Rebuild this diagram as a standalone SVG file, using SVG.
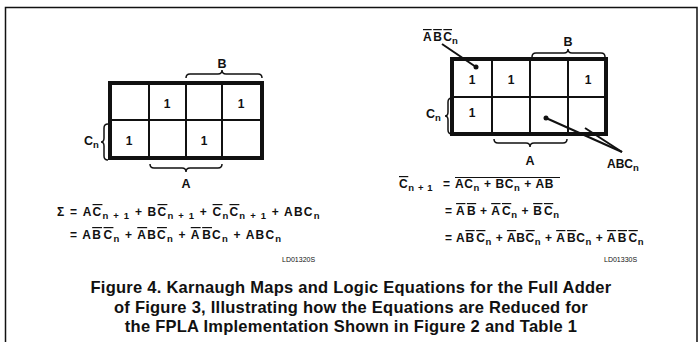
<svg xmlns="http://www.w3.org/2000/svg" width="699" height="342" viewBox="0 0 699 342">
<style>
text{font-family:"Liberation Sans",Arial,sans-serif;font-weight:bold;fill:#111}
.eq{font-size:12px}
.el{letter-spacing:1.2px}
.er{letter-spacing:0.6px}
.s{font-size:9.5px}
.ov{text-decoration:overline}
.one{font-size:12px;text-anchor:middle}
.lbl{font-size:12.5px}
.id{font-size:7px;font-weight:normal}
.cap{font-size:16.5px;text-anchor:middle;letter-spacing:0.25px}
.outer{fill:#fff;stroke:#111;stroke-width:4}
.inner{stroke:#111;stroke-width:2;fill:none}
.brace{fill:none;stroke:#111;stroke-width:1.5}
.lead{stroke:#111;stroke-width:2;fill:none}
</style>
<path d="M5.5,342 V7.5 H697 V342" fill="none" stroke="#111" stroke-width="1.5"/>

<g id="map-sum">
<rect class="outer" x="110" y="83" width="152" height="75"/>
<path class="inner" d="M149,83V158M186,83V158M222,83V158M110,120H262"/>
<text class="one" x="167" y="108">1</text>
<text class="one" x="241" y="108">1</text>
<text class="one" x="129" y="145">1</text>
<text class="one" x="204" y="145">1</text>
<path class="brace" d="M186,78 Q186,74 190,74 L218,74 Q222,74 222,70 Q222,74 226,74 L258,74 Q262,74 262,78"/>
<text class="lbl" x="222" y="68" text-anchor="middle">B</text>
<path class="brace" d="M150,164 Q150,168 154,168 L182,168 Q186,168 186,172 Q186,168 190,168 L218,168 Q222,168 222,164"/>
<text class="lbl" x="186" y="188" text-anchor="middle">A</text>
<path class="brace" d="M108,124 Q104,124 104,128 L104,138 Q104,142 101,142 Q104,142 104,146 L104,156 Q104,160 108,160"/>
<text class="lbl" x="84" y="145">C<tspan class="s" dy="3">n</tspan></text>
</g>

<g id="map-carry">
<rect class="outer" x="452" y="59" width="154" height="75"/>
<path class="inner" d="M492,59V134M530,59V134M568,59V134M452,97H606"/>
<text class="one" x="472" y="84">1</text>
<text class="one" x="511" y="84">1</text>
<text class="one" x="588" y="84">1</text>
<text class="one" x="472" y="117">1</text>
<path class="brace" d="M532,57 Q532,53 536,53 L564,53 Q568,53 568,49 Q568,53 572,53 L601,53 Q605,53 605,57"/>
<text class="lbl" x="568" y="46" text-anchor="middle">B</text>
<path class="brace" d="M494,139 Q494,143 498,143 L526,143 Q530,143 530,147 Q530,143 534,143 L563,143 Q567,143 567,139"/>
<text class="lbl" x="530" y="165" text-anchor="middle">A</text>
<path class="brace" d="M452,98 Q448,98 448,102 L448,112 Q448,116 445,116 Q448,116 448,120 L448,130 Q448,134 452,134"/>
<text class="lbl" x="426" y="118">C<tspan class="s" dy="3">n</tspan></text>
<text class="eq" x="423" y="41"><tspan class="ov">A</tspan><tspan dx="1.5" class="ov">B</tspan><tspan dx="1.5" class="ov">C</tspan><tspan class="s" dy="3">n</tspan></text>
<text class="eq" x="607" y="168">ABC<tspan class="s" dy="3">n</tspan></text>
</g>

<g id="connectors">
<path class="lead" d="M442,44 L476,67"/>
<circle cx="476" cy="67" r="2.5" fill="#111"/>
<path class="lead" d="M546,118 L622,152"/>
<path class="lead" d="M585,128 L622,152" stroke-width="1.5"/>
<circle cx="546" cy="118" r="2.5" fill="#111"/>
</g>

<g id="eq-sum">
<text class="eq el" x="57" y="216">Σ = A<tspan class="ov">C</tspan><tspan class="s" dy="3">n + 1</tspan><tspan dy="-3"> + B</tspan><tspan class="ov">C</tspan><tspan class="s" dy="3">n + 1</tspan><tspan dy="-3"> + </tspan><tspan class="ov">C</tspan><tspan class="s" dy="3">n</tspan><tspan class="ov" dy="-3">C</tspan><tspan class="s" dy="3">n + 1</tspan><tspan dy="-3"> + ABC</tspan><tspan class="s" dy="3">n</tspan></text>
<text class="eq el" x="70" y="239">= A<tspan class="ov">B</tspan><tspan class="ov" dx="1.5">C</tspan><tspan class="s" dy="3">n</tspan><tspan dy="-3"> + </tspan><tspan class="ov">A</tspan><tspan>B</tspan><tspan class="ov">C</tspan><tspan class="s" dy="3">n</tspan><tspan dy="-3"> + </tspan><tspan class="ov">A</tspan><tspan class="ov" dx="1.5">B</tspan><tspan>C</tspan><tspan class="s" dy="3">n</tspan><tspan dy="-3"> + ABC</tspan><tspan class="s" dy="3">n</tspan></text>
<text class="id" x="282" y="262">LD01320S</text>
</g>

<g id="eq-carry">
<text class="eq er" x="399" y="188"><tspan class="ov">C</tspan><tspan class="s" dy="3">n + 1</tspan><tspan x="443" dy="-3">=</tspan><tspan x="455">AC</tspan><tspan class="s" dy="3">n</tspan><tspan dy="-3"> + BC</tspan><tspan class="s" dy="3">n</tspan><tspan dy="-3"> + AB</tspan></text>
<path d="M455,177.5 H560" stroke="#111" stroke-width="1"/>
<text class="eq er" x="445" y="215">= <tspan class="ov">A</tspan><tspan class="ov" dx="1.5">B</tspan><tspan> + </tspan><tspan class="ov">A</tspan><tspan class="ov" dx="1.5">C</tspan><tspan class="s" dy="3">n</tspan><tspan dy="-3"> + </tspan><tspan class="ov">B</tspan><tspan class="ov" dx="1.5">C</tspan><tspan class="s" dy="3">n</tspan></text>
<text class="eq er" x="445" y="242">= A<tspan class="ov">B</tspan><tspan class="ov" dx="1.5">C</tspan><tspan class="s" dy="3">n</tspan><tspan dy="-3"> + </tspan><tspan class="ov">A</tspan><tspan>B</tspan><tspan class="ov">C</tspan><tspan class="s" dy="3">n</tspan><tspan dy="-3"> + </tspan><tspan class="ov">A</tspan><tspan class="ov" dx="1.5">B</tspan><tspan>C</tspan><tspan class="s" dy="3">n</tspan><tspan dy="-3"> + </tspan><tspan class="ov">A</tspan><tspan class="ov" dx="1.5">B</tspan><tspan class="ov" dx="1.5">C</tspan><tspan class="s" dy="3">n</tspan></text>
<text class="id" x="604" y="262">LD01330S</text>
</g>

<g id="caption">
<text class="cap" x="351" y="293">Figure 4. Karnaugh Maps and Logic Equations for the Full Adder</text>
<text class="cap" x="351" y="313">of Figure 3, Illustrating how the Equations are Reduced for</text>
<text class="cap" x="351" y="332">the FPLA Implementation Shown in Figure 2 and Table 1</text>
</g>
</svg>
